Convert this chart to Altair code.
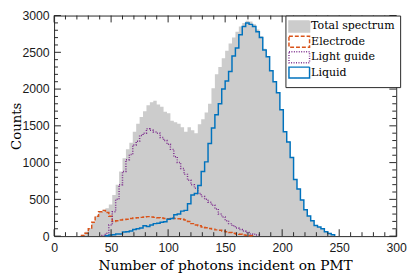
import altair as alt
import pandas as pd

# ---------------- data ----------------
BIN_FIRST = 24      # left edge of first bin
BIN_WIDTH = 3

SERIES = ["Total spectrum", "Electrode", "Light guide", "Liquid"]

total = [20, 60, 110, 190, 270, 330, 360, 380, 430, 560, 700, 880, 1060, 1180,
         1270, 1420, 1530, 1620, 1700, 1780, 1820, 1840, 1790, 1760, 1690, 1670,
         1570, 1550, 1530, 1480, 1420, 1480, 1440, 1400, 1520, 1590, 1680, 1800,
         2010, 2200, 2300, 2420, 2520, 2620, 2700, 2780, 2850, 2900, 2930, 2920,
         2880, 2810, 2720, 2550, 2450, 2260, 2110, 1960, 1730, 1430, 1290, 1075,
         775, 645, 495, 362, 277, 211, 146, 125, 100, 60, 35, 20]

electrode = [10, 40, 100, 190, 270, 330, 350, 320, 270, 200, 210, 220, 225, 230,
             240, 245, 250, 255, 260, 265, 260, 255, 250, 245, 240, 235, 245, 240,
             235, 230, 220, 200, 170, 150, 140, 125, 115, 105, 95, 85, 80, 70, 60,
             50, 40, 30, 25, 15, 10, 5,
             0, 0, 0, 0, 0, 0, 0, 0, 0, 0, 0, 0, 0, 0, 0, 0, 0, 0, 0, 0, 0, 0, 0, 0]

light_guide = [0, 0, 0, 0, 0, 0,
               10, 40, 150, 330, 500, 700, 880, 1040, 1110, 1240, 1290, 1370, 1400,
               1460, 1440, 1415, 1400, 1340, 1300, 1250, 1180, 1080, 1000, 920, 840,
               760, 700, 650, 580, 540, 500, 460, 420, 370, 300, 260, 210, 170, 140,
               110, 90, 70, 50, 30, 25, 15,
               0, 0, 0, 0, 0, 0, 0, 0, 0, 0, 0, 0, 0, 0, 0, 0, 0, 0, 0, 0, 0, 0]

liquid = [0, 0, 0, 0, 0, 0, 0,
          5, 15, 20, 30, 30, 55, 60, 70, 90, 100, 110, 140, 130, 150, 170, 175, 190,
          195, 230, 240, 290, 300, 340, 350, 440, 560, 580, 690, 880, 1010, 1260,
          1470, 1650, 1800, 2000, 2110, 2240, 2450, 2560, 2740, 2850, 2900, 2880,
          2850, 2780, 2700, 2530, 2440, 2250, 2100, 1950, 1720, 1420, 1280, 1070,
          770, 640, 490, 360, 275, 210, 145, 125, 100, 60, 35, 20]

X_MAJOR = [0, 50, 100, 150, 200, 250, 300]
X_MINOR = [10, 20, 30, 40, 60, 70, 80, 90, 110, 120, 130, 140, 160, 170, 180, 190,
           210, 220, 230, 240, 260, 270, 280, 290]
Y_MAJOR = [0, 500, 1000, 1500, 2000, 2500, 3000]
Y_MINOR = [100, 200, 300, 400, 600, 700, 800, 900, 1100, 1200, 1300, 1400, 1600,
           1700, 1800, 1900, 2100, 2200, 2300, 2400, 2600, 2700, 2800, 2900]

COLORS_FILL = ["#cccccc", "transparent", "transparent", "transparent"]
COLORS_STROKE = ["#cccccc", "#D95319", "#7E2F8E", "#0072BD"]
DASHES = [[1, 0], [4, 2], [1, 1.5], [1, 0]]

# ---------------- layout ----------------
W, H = 349, 225
MAJ, MIN = 7, 4


def step_rows(values, name, lead_zero=True):
    nz = [i for i, v in enumerate(values) if v > 0]
    i0, i1 = nz[0], nz[-1]
    rows = []
    k = 0
    if lead_zero:
        rows.append({"x": BIN_FIRST + i0 * BIN_WIDTH, "y": 0, "series": name, "order": k})
        k += 1
    for i in range(i0, i1 + 1):
        rows.append({"x": BIN_FIRST + i * BIN_WIDTH, "y": values[i], "series": name, "order": k})
        k += 1
    rows.append({"x": BIN_FIRST + (i1 + 1) * BIN_WIDTH, "y": 0, "series": name, "order": k})
    return rows


area_df = pd.DataFrame(step_rows(total, "Total spectrum", lead_zero=False))
line_df = pd.DataFrame(step_rows(electrode, "Electrode")
                       + step_rows(light_guide, "Light guide")
                       + step_rows(liquid, "Liquid"))

xscale = alt.Scale(domain=[0, 300], nice=False, zero=False)
yscale = alt.Scale(domain=[0, 3000], nice=False)

xaxis = alt.Axis(values=X_MAJOR, title="Number of photons incident on PMT", format="d",
                 titleFont="DejaVu Serif", titleFontSize=14, titleFontWeight="normal",
                 titleColor="black", titleX=W / 2, titleY=34,
                 titleBaseline="alphabetic", titleAlign="center",
                 labelFont="Liberation Sans", labelFontSize=12.5, labelColor="#1a1a1a",
                 labelPadding=6, labelFlush=False, labelOverlap=False,
                 ticks=False, domain=False, grid=False)
yaxis = alt.Axis(values=Y_MAJOR, title="Counts", format="d",
                 titleFont="DejaVu Serif", titleFontSize=13.5, titleFontWeight="normal",
                 titleColor="black", titleX=-34, titleY=H / 2,
                 titleBaseline="alphabetic", titleAlign="center", titleAngle=270,
                 labelFont="Liberation Sans", labelFontSize=12.5, labelColor="#1a1a1a",
                 labelPadding=5, labelFlush=False, labelOverlap=False,
                 ticks=False, domain=False, grid=False)

legend = alt.Legend(
    title=None, orient="none", legendX=236, legendY=0,
    symbolType="M-2.625,-1.4H2.625V1.4H-2.625Z", symbolSize=64, symbolStrokeWidth=1.5,
    symbolOffset=3,
    labelFont="DejaVu Serif", labelFontSize=11.2, labelColor="black",
    labelOffset=6.5, padding=5.5, rowPadding=-2.3, labelLimit=300,
    strokeColor="#262626", fillColor="white",
)

area = alt.Chart(area_df).mark_area(interpolate="step-after", opacity=1).encode(
    x=alt.X("x:Q", scale=xscale, axis=xaxis),
    y=alt.Y("y:Q", scale=yscale, stack=None, axis=yaxis),
    fill=alt.Fill("series:N", scale=alt.Scale(domain=SERIES, range=COLORS_FILL), legend=legend),
)

lines = alt.Chart(line_df).mark_line(interpolate="step-after", strokeWidth=1.5).encode(
    x=alt.X("x:Q", scale=xscale, axis=xaxis),
    y=alt.Y("y:Q", scale=yscale, axis=yaxis),
    stroke=alt.Stroke("series:N", scale=alt.Scale(domain=SERIES, range=COLORS_STROKE), legend=legend),
    strokeDash=alt.StrokeDash("series:N", scale=alt.Scale(domain=SERIES, range=DASHES), legend=legend),
    order=alt.Order("order:Q"),
)

tick_color = "#262626"


def xticks(vals, y1, y2):
    return alt.Chart(pd.DataFrame({"x": vals})).mark_rule(color=tick_color, strokeWidth=1).encode(
        x=alt.X("x:Q", scale=xscale, axis=xaxis), y=alt.value(y1), y2=alt.value(y2))


def yticks(vals, x1, x2):
    return alt.Chart(pd.DataFrame({"y": vals})).mark_rule(color=tick_color, strokeWidth=1).encode(
        y=alt.Y("y:Q", scale=yscale, axis=yaxis), x=alt.value(x1), x2=alt.value(x2))


ticks = [
    xticks(X_MAJOR, H, H - MAJ), xticks(X_MINOR, H, H - MIN),
    xticks(X_MAJOR, 0, MAJ), xticks(X_MINOR, 0, MIN),
    yticks(Y_MAJOR, 0, MAJ), yticks(Y_MINOR, 0, MIN),
    yticks(Y_MAJOR, W, W - MAJ), yticks(Y_MINOR, W, W - MIN),
]

chart = alt.layer(area, lines, *ticks).properties(
    width=W, height=H,
    padding={"left": 47, "top": 5, "right": 11, "bottom": 39},
    autosize=alt.AutoSizeParams(type="none"),
).configure_view(stroke="#262626", strokeWidth=1).configure_axis(grid=False)

chart.save("out.html", embed_options={"renderer": "svg", "actions": False})
